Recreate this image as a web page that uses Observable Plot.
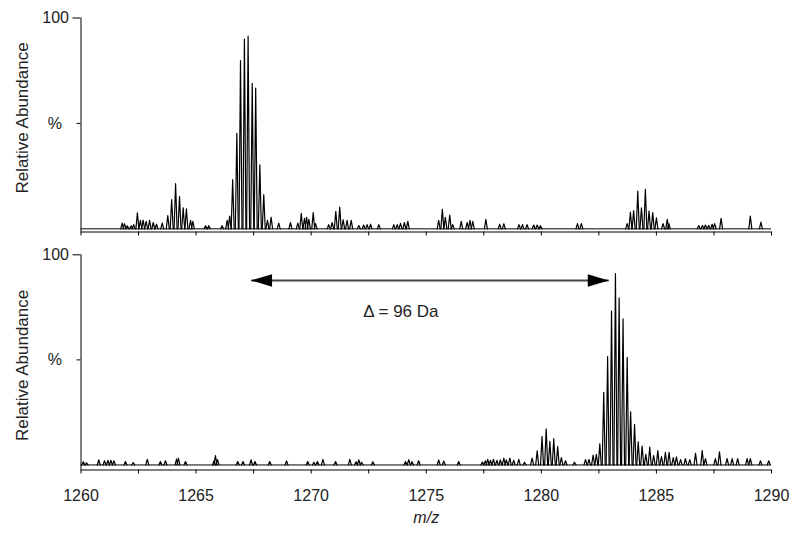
<!DOCTYPE html>
<html><head><meta charset="utf-8">
<script src="https://cdn.jsdelivr.net/npm/d3@7"></script>
<script src="https://cdn.jsdelivr.net/npm/@observablehq/plot@0.6"></script>
<style>
body{margin:0;background:#fff;}
#chart{width:800px;height:544px;overflow:hidden;}
#chart svg{display:block;}
</style></head><body><div id="chart"></div>
<script>
// ---- data ----
const xTicks = [1260, 1262.5, 1265, 1267.5, 1270, 1272.5, 1275, 1277.5, 1280, 1282.5, 1285, 1287.5, 1290];
const xTickLabels = [1260, 1265, 1270, 1275, 1280, 1285, 1290];
const yTicks = [50, 100];
const yTickLabels = ["%", "100"];
const yAxisTitle = "Relative Abundance";
const xAxisTitle = "m/z";

const topMz = [1261.79,1261.89,1262.01,1262.18,1262.29,1262.45,1262.58,1262.70,1262.83,1262.98,1263.14,1263.28,1263.53,1263.77,1263.94,1264.11,1264.28,1264.44,1264.58,1264.76,1264.86,1265.41,1265.55,1266.13,1266.35,1266.46,1266.59,1266.77,1266.93,1267.10,1267.26,1267.44,1267.59,1267.77,1267.94,1268.10,1268.26,1268.59,1269.10,1269.42,1269.57,1269.71,1269.80,1269.90,1270.09,1270.19,1270.76,1270.91,1271.07,1271.24,1271.39,1271.56,1271.74,1272.07,1272.28,1272.43,1272.58,1272.94,1273.59,1273.74,1273.88,1274.05,1274.20,1275.54,1275.70,1275.83,1276.02,1276.15,1276.52,1276.78,1276.90,1277.02,1277.59,1278.19,1278.37,1279.03,1279.18,1279.38,1279.67,1279.82,1279.96,1281.57,1281.74,1283.73,1283.87,1284.01,1284.19,1284.35,1284.52,1284.68,1284.84,1285.00,1285.29,1285.47,1285.54,1286.84,1287.00,1287.13,1287.27,1287.42,1287.53,1287.81,1289.08,1289.54];
const topAbundance = [2.7,2.4,1.5,1.5,2,7.6,4,4.2,3.6,4,3,2.2,2.7,6.3,13.9,21.4,15.3,10,9.5,4,3.5,1.5,1.5,1.5,4,6,23.3,45.3,79.8,90,91.4,69,66.8,30.4,16.2,4,5.5,2.7,3,2.7,7.3,5,5.5,4.5,7.7,2.5,2,3,8.3,10.3,4.3,4,4,1.6,1.8,2,2.2,2,2,2,2.6,3,3.5,4,9.3,5.5,6.5,2,3.5,3,4,3.5,4.5,2.2,2.4,2,2,2,1.8,1.8,1.5,2.5,2.5,2.5,7.9,8.7,17.9,10,18.7,8.4,7.7,5.2,2.5,4.5,2.5,1.6,1.6,1.8,1.6,2.2,2.5,5,6,3.2];

const bottomMz = [1260.10,1260.24,1260.77,1261.02,1261.17,1261.30,1261.43,1261.93,1262.27,1262.88,1263.45,1263.67,1264.15,1264.23,1264.54,1265.78,1265.84,1265.93,1266.81,1267.04,1267.39,1267.56,1268.20,1268.93,1269.85,1270.12,1270.27,1270.51,1271.06,1271.68,1271.95,1272.07,1272.19,1272.68,1274.10,1274.24,1274.38,1274.67,1275.54,1275.76,1276.41,1277.44,1277.57,1277.67,1277.79,1277.92,1278.07,1278.22,1278.37,1278.48,1278.63,1278.80,1279.02,1279.27,1279.60,1279.82,1280.03,1280.21,1280.37,1280.54,1280.71,1280.87,1281.05,1281.44,1281.92,1282.07,1282.25,1282.39,1282.54,1282.71,1282.88,1283.05,1283.22,1283.38,1283.55,1283.73,1283.88,1284.05,1284.21,1284.38,1284.54,1284.71,1284.88,1285.06,1285.22,1285.39,1285.55,1285.73,1285.87,1286.05,1286.26,1286.45,1286.70,1286.99,1287.13,1287.56,1287.74,1288.07,1288.29,1288.53,1288.94,1289.08,1289.52,1289.88];
const bottomAbundance = [1.5,1,2.4,2,2.2,2.2,2,1.6,1.1,2.7,1.6,2,2.8,3.2,1.6,2,4.5,2.5,1.6,1.6,2.4,1.6,1.6,1.9,1.6,1.3,1.6,2.7,1.6,2.7,1.5,2.4,1.3,1.5,1.6,2.5,1.5,2,2.4,1.8,1.6,1.4,2,2.7,2.2,2.7,2.2,2.4,3.3,2.4,3.2,2.2,2.7,1.3,3.2,6.7,13.5,17.2,11.2,12.5,8.8,3.5,2,1.3,2.6,2.6,4.7,5,10,34.6,51.6,73.2,91,79.5,69.5,51.2,25.3,19.3,11,9,5,8.5,4.5,6.8,4,6,6,3.5,3.8,2.5,3,2.5,5.5,6.8,3,3,6.2,3,3,3,3,3,2,2];

// mass-shift annotation (bottom panel)
const shiftFrom = [1267.39];
const shiftTo = [1282.93];
const shiftLevel = [87.8];
const shiftLabel = ["Δ = 96 Da"];
const shiftLabelMz = [1273.9];
const shiftLabelLevel = [73];

// ---- drawing ----
const FONT = '"Liberation Sans", Arial, Helvetica, sans-serif';
const PEAK_HALF_WIDTH = 0.065; // rendering width of a profile peak (Da)

function profile(mz, ab) {
  return mz.flatMap((m, i) => [
    {mz: m - PEAK_HALF_WIDTH, ab: 0, k: i},
    {mz: m, ab: ab[i], k: i},
    {mz: m + PEAK_HALF_WIDTH, ab: 0, k: i}
  ]);
}

function panel({mz, ab, height, marginTop, marginBottom, yMin, showLabels, titleDy, extra = []}) {
  return Plot.plot({
    width: 800, height, marginLeft: 80.5, marginRight: 29, marginTop, marginBottom,
    x: {domain: [xTicks[0], xTicks[xTicks.length - 1]]},
    y: {domain: [yMin, yTicks[1]]},
    style: {fontFamily: FONT, fontSize: "16px", color: "#222", background: "#fff", overflow: "visible"},
    marks: [
      Plot.ruleY([0], {stroke: "#000", strokeWidth: 1}),
      Plot.line(profile(mz, ab), {x: "mz", y: "ab", z: "k", stroke: "#000", strokeWidth: 1.2}),
      Plot.ruleX([xTicks[0]], {y1: yMin, y2: yTicks[1], stroke: "#000", strokeWidth: 1}),
      Plot.ruleY([yMin], {stroke: "#000", strokeWidth: 1}),
      Plot.axisX(xTicks, {tickSize: 4, tickPadding: 16, stroke: "#000",
        tickFormat: d => (showLabels && xTickLabels.includes(d)) ? String(d) : "", label: null}),
      Plot.axisY([yTicks[1]], {tickSize: 8, tickPadding: 4, stroke: "#000", tickFormat: () => yTickLabels[1], label: null}),
      Plot.axisY([yTicks[0]], {tickSize: 4, tickPadding: 15, stroke: "#000", tickFormat: () => yTickLabels[0], label: null}),
      Plot.text([yAxisTitle], {frameAnchor: "left", textAnchor: "middle", dx: -58.5, dy: titleDy, rotate: -90, fontSize: 17, fill: "#222"}),
      ...extra
    ]
  });
}

const arrowData = shiftFrom.map((f, i) => ({from: f, to: shiftTo[i], level: shiftLevel[i],
  label: shiftLabel[i], lx: shiftLabelMz[i], ly: shiftLabelLevel[i]}));

const headLeft = {draw(ctx) { ctx.moveTo(0, 0); ctx.lineTo(21, -6.3); ctx.lineTo(21, 6.3); ctx.closePath(); }};
const headRight = {draw(ctx) { ctx.moveTo(0, 0); ctx.lineTo(-21, -6.3); ctx.lineTo(-21, 6.3); ctx.closePath(); }};

const topPanel = panel({mz: topMz, ab: topAbundance, height: 240, marginTop: 17.5, marginBottom: 8.5,
  yMin: -1.5, showLabels: false, titleDy: -7});

const bottomPanel = panel({mz: bottomMz, ab: bottomAbundance, height: 304, marginTop: 14.3, marginBottom: 74.5,
  yMin: -2.4, showLabels: true, titleDy: 3, extra: [
    Plot.link(arrowData, {x1: "from", x2: "to", y1: "level", y2: "level", stroke: "#444", strokeWidth: 2}),
    Plot.dot(arrowData, {x: "from", y: "level", symbol: headLeft, fill: "#000", stroke: "none"}),
    Plot.dot(arrowData, {x: "to", y: "level", symbol: headRight, fill: "#000", stroke: "none"}),
    Plot.text(arrowData, {x: "lx", y: "ly", text: "label", fontSize: 17, fill: "#222"}),
    Plot.text([xAxisTitle], {frameAnchor: "bottom", dy: 53, fontStyle: "italic", fontSize: 16, fill: "#222"})
  ]});

document.getElementById("chart").append(topPanel, bottomPanel);
</script></body></html>
